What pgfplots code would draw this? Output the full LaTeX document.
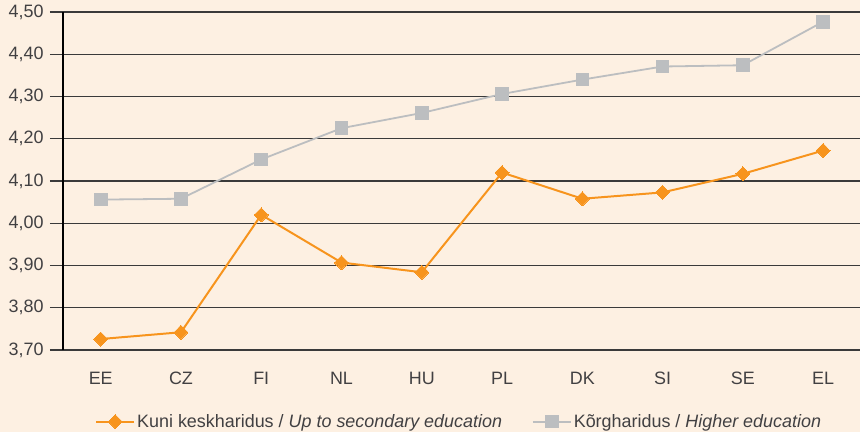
\documentclass[border=0pt]{standalone}
\usepackage{pgfplots}
\pgfplotsset{compat=1.18}
\usepackage{fontspec}
\setmainfont{Liberation Sans}
\definecolor{bg}{HTML}{FDF0E2}
\definecolor{org}{HTML}{F7941D}
\definecolor{gry}{HTML}{BCBEC0}
\definecolor{txt}{HTML}{414042}
\definecolor{gridc}{HTML}{3A3A3A}
\begin{document}
\begin{tikzpicture}[x=1bp,y=1bp]
\useasboundingbox (-63bp,-82bp) rectangle (797bp,350bp);
\fill[bg] (-63bp,-82bp) rectangle (797bp,350bp);
\begin{axis}[
  at={(0,0)}, anchor=south west,
  scale only axis, width=797bp, height=338bp,
  xmin=-0.47, xmax=9.46, ymin=3.70, ymax=4.50,
  axis x line=none, axis y line=left,
  axis line style={black, line width=1.2pt, -},
  y axis line style={-},
  ytick={3.7,3.8,...,4.51},
  ymajorgrids, grid style={gridc, line width=1.3pt},
  tick align=outside, major tick length=13bp,
  ytick style={gridc, line width=1.3pt},
  xtick=\empty,
  yticklabel style={font=\fontsize{18}{21}\selectfont, text=txt, xshift=-3bp},
  /pgf/number format/.cd, use comma, fixed, fixed zerofill, precision=2, assume math mode=true,
  /pgfplots/.cd,
  clip=false,
  legend columns=2,
  legend style={draw=none, fill=none, at={(0.497,-0.212)}, anchor=center,
    font=\fontsize{18}{21}\selectfont, text=txt,
    /tikz/every even column/.append style={column sep=28bp}},
  legend image code/.code={
    \draw[#1, mark=none] (0bp,0bp) -- (38bp,0bp);
    \draw[#1, only marks] plot coordinates {(19bp,0bp)};
  },
]
\addplot[org, line width=2pt, mark=diamond*, mark size=7bp, mark options={solid, xscale=1.33, fill=org, draw=org, line width=0pt}]
 coordinates {(0,3.726) (1,3.742) (2,4.020) (3,3.907) (4,3.884) (5,4.120) (6,4.058) (7,4.073) (8,4.117) (9,4.172)};
\addlegendentry{Kuni keskharidus / \textit{Up to secondary education}}
\addplot[gry, line width=1.8pt, mark=square*, mark size=6.3bp, mark options={solid, fill=gry, draw=gry, line width=0pt}]
 coordinates {(0,4.056) (1,4.058) (2,4.151) (3,4.225) (4,4.261) (5,4.306) (6,4.340) (7,4.371) (8,4.374) (9,4.477)};
\addlegendentry{Kõrgharidus / \textit{Higher education}}
\foreach \i/\l in {0/EE,1/CZ,2/FI,3/NL,4/HU,5/PL,6/DK,7/SI,8/SE,9/EL}{
  \edef\temp{\noexpand\node[font=\noexpand\fontsize{18}{21}\noexpand\selectfont, text=txt] at (axis cs:\i,3.70) [yshift=-28bp] {\l};}
  \temp
}
\end{axis}
\end{tikzpicture}
\end{document}
